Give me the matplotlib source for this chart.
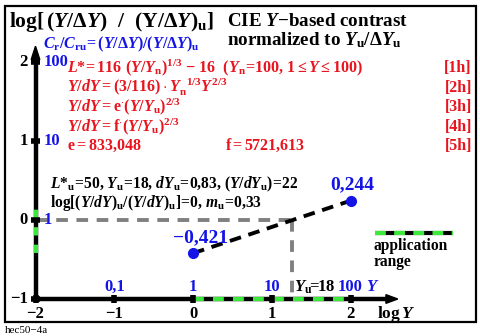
import numpy as np
import matplotlib
matplotlib.use("Agg")
import matplotlib.pyplot as plt
from matplotlib.patches import Rectangle, FancyArrow

plt.rcParams.update({
    "font.family": ["Liberation Serif", "DejaVu Serif"],
    "font.weight": "bold",
    "mathtext.fontset": "custom",
    "mathtext.rm": "Liberation Serif:bold",
    "mathtext.it": "Liberation Serif:italic:bold",
    "mathtext.bf": "Liberation Serif:bold",
    "mathtext.sf": "Liberation Serif:bold",
})

# ---- data -------------------------------------------------------------
log_y_ticks = [-2, -1, 0, 1, 2]                  # log Y
y_value_labels = ["0,1", "1", "10", "100"]        # Y at log Y = -1..2
contrast_ticks = [-1, 0, 1, 2]                    # log contrast ratio
contrast_value_labels = ["1", "10", "100"]        # C/Cu at 0..2
curve_logY = [0.0, 2.0]                           # Y = 1 .. 100
curve_logC = [-0.421, 0.244]
curve_labels = ["\u22120,421", "0,244"]
Y_u = 18
app_range_x = [0.0, 2.0]
app_range_y = [-0.421, 0.244]

BLUE = "#1414e6"
RED = "#e8141e"
GREEN = "#3ce83c"
GRAY = "#808080"

W, H = 481, 336
fig = plt.figure(figsize=(W / 100, H / 100), dpi=100)
ax = fig.add_axes([0, 0, 1, 1])
# pixel frame: x0 at px 193, 78.75 px/unit ; y0 at px 220, 79 px/unit
ax.set_xlim(-193 / 78.75, (W - 193) / 78.75)
ax.set_ylim(-(H - 220) / 79, 220 / 79)
ax.axis("off")


def fx(px):
    return px / W


def fy(py):
    return 1 - py / H


# outer frame
fig.patches.append(Rectangle((fx(5), fy(322)), fx(476) - fx(5), fy(6) - fy(322),
                             transform=fig.transFigure, fill=False,
                             edgecolor="black", linewidth=1.6))

x0, y0 = log_y_ticks[0], contrast_ticks[0]

# axes with arrows
ax.plot([x0, 2.5], [y0, y0], color="black", lw=3.2, solid_capstyle="butt", zorder=3)
ax.plot([x0, x0], [y0, 2.1], color="black", lw=3.2, solid_capstyle="butt", zorder=3)
ax.add_patch(FancyArrow(2.45, y0, 0.15, 0, width=0, head_width=0.11, head_length=0.15,
                        length_includes_head=True, color="black", zorder=4))
ax.add_patch(FancyArrow(x0, 2.03, 0, 0.17, width=0, head_width=0.11, head_length=0.17,
                        length_includes_head=True, color="black", zorder=4))

# application range on both axes
ax.plot(app_range_x, [y0, y0], color=GREEN, lw=3.0, dashes=(2.6, 2.2),
        solid_capstyle="butt", zorder=4)
ax.plot([x0, x0], app_range_y, color=GREEN, lw=3.0, dashes=(2.0, 2.2),
        solid_capstyle="butt", zorder=4)

# tick marks
for t in log_y_ticks:
    ax.plot([t, t], [y0 - 0.055, y0 + 0.055], color="black", lw=4.0,
            solid_capstyle="butt", zorder=5)
for t in contrast_ticks:
    ax.plot([x0 - 0.055, x0 + 0.055], [t, t], color="black", lw=4.0,
            solid_capstyle="butt", zorder=5)

# reference lines for Y_u
lx = np.log10(Y_u)
ax.plot([x0, lx], [0, 0], color=GRAY, lw=2.8, dashes=(3.0, 2.2), zorder=2)
ax.plot([lx, lx], [0, y0], color=GRAY, lw=2.8, dashes=(3.0, 2.2), zorder=2)

# contrast curve
ax.plot(curve_logY, curve_logC, color="black", lw=2.8, dashes=(3.0, 2.0), zorder=3)
ax.plot(curve_logY, curve_logC, "o", color=BLUE, ms=7, zorder=6)
ax.text(curve_logY[0] + 0.09, curve_logC[0] + 0.14, curve_labels[0], color=BLUE,
        fontsize=14, ha="center", va="baseline")
ax.text(curve_logY[1] + 0.02, curve_logC[1] + 0.14, curve_labels[1], color=BLUE,
        fontsize=14, ha="center", va="baseline")

# tick labels
for t in log_y_ticks:
    ax.text(t, y0 - 0.24, f"{t}".replace("-", "\u2212"), fontsize=12,
            ha="center", va="baseline")
for t, lab in zip(log_y_ticks[1:], y_value_labels):
    ax.text(t, y0 + 0.1, lab, color=BLUE, fontsize=12, ha="center", va="baseline")
for t in contrast_ticks:
    ax.text(x0 - 0.1, t, f"{t}".replace("-", "\u2212"), fontsize=12,
            ha="right", va="center")
for t, lab in zip(contrast_ticks[1:], contrast_value_labels):
    ax.text(x0 + 0.1, t, lab, color=BLUE, fontsize=12, ha="left", va="center")

ax.text(2.2, y0 + 0.1, r"$Y$", color=BLUE, fontsize=12, ha="left", va="baseline")
ax.text(2.34, y0 - 0.24, r"$\mathrm{log}\,Y$", fontsize=12.5, ha="left", va="baseline")
ax.text(lx + 0.03, y0 + 0.1, r"$Y_\mathrm{u}\!\!\mathrm{=}\!\!\mathrm{18}$", fontsize=12,
        ha="left", va="baseline")

# legend for the application range
fig.add_artist(plt.Line2D([fx(375), fx(453)], [fy(233), fy(233)],
                          transform=fig.transFigure, color="black", lw=3.0,
                          solid_capstyle="butt"))
fig.add_artist(plt.Line2D([fx(375), fx(453)], [fy(233), fy(233)],
                          transform=fig.transFigure, color=GREEN, lw=3.0,
                          dashes=(2.6, 2.0), solid_capstyle="butt"))
fig.text(fx(374), fy(250), "application", fontsize=11.2, va="baseline")
fig.text(fx(374), fy(266), "range", fontsize=11.2, va="baseline")

# titles
fig.text(fx(9), fy(27),
         r"$\mathrm{log[\,(}Y/\Delta Y\mathrm{)\ \ /\ \ (Y/}\Delta Y\mathrm{)_u]}$",
         fontsize=15.5, va="baseline")
fig.text(fx(227), fy(26), r"$\mathrm{CIE\ }Y\mathrm{{-}based\ contrast}$",
         fontsize=13.7, va="baseline")
fig.text(fx(227), fy(45), r"$\mathrm{normalized\ to\ }Y_\mathrm{u}/\Delta Y_\mathrm{u}$",
         fontsize=13.7, va="baseline")

fig.text(fx(43), fy(48),
         r"$C_\mathrm{r}/C_\mathrm{ru}\!\mathrm{=(}Y/\Delta Y\mathrm{)/(}Y/\Delta Y\mathrm{)_u}$",
         color=BLUE, fontsize=11.5, va="baseline")

# equations
eqs = [
    r"$L{*}\!\mathrm{=116\ (}Y/Y_\mathrm{n}\mathrm{)}^{1/3}\mathrm{\ {-}\ 16\ \ (}Y_\mathrm{n}"
    r"\!\mathrm{=}\!\mathrm{100{,}\ 1}{\leq}Y{\leq}\mathrm{100)}$",
    r"$Y/dY\mathrm{=(3/116)}\cdot Y_\mathrm{n}^{\ \ 1/3}Y^{2/3}$",
    r"$Y/dY\mathrm{=e}^{\cdot}\mathrm{(}Y/Y_\mathrm{u}\mathrm{)}^{2/3}$",
    r"$Y/dY\mathrm{=f}^{\cdot}\mathrm{(}Y/Y_\mathrm{u}\mathrm{)}^{2/3}$",
    r"$\mathrm{e=833{,}048}$",
]
eq_tags = ["[1h]", "[2h]", "[3h]", "[4h]", "[5h]"]
rows = [72, 92, 111, 131, 150]
for s, tag, r in zip(eqs, eq_tags, rows):
    fig.text(fx(67), fy(r), s, color=RED, fontsize=11.5, va="baseline")
    fig.text(fx(472), fy(r), tag, color=RED, fontsize=11.5, va="baseline", ha="right")
fig.text(fx(225), fy(150), r"$\mathrm{f=5721{,}613}$", color=RED,
         fontsize=11.5, va="baseline")

fig.text(fx(50), fy(188),
         r"$L{*}_\mathrm{u}\!\mathrm{=}\!\mathrm{50{,}\ }Y_\mathrm{u}\!\mathrm{=}\!\mathrm{18{,}\ }"
         r"dY_\mathrm{u}\!\mathrm{=}\!\mathrm{0{,}83{,}\ (}Y/dY_\mathrm{u}\mathrm{)}"
         r"\!\mathrm{=}\!\mathrm{22}$",
         fontsize=11.2, va="baseline")
fig.text(fx(50), fy(207),
         r"$\mathrm{log[}(Y/dY)_\mathrm{u}/(Y/dY)_\mathrm{u}\mathrm{]}\!\mathrm{=}\!"
         r"\mathrm{0{,}\ }m_\mathrm{u}\!\mathrm{=}\!\mathrm{0{,}33}$",
         fontsize=11.2, va="baseline")

fig.text(fx(5), fy(333), "hec50\u22124a", fontsize=8, fontweight="normal",
         va="baseline")

fig.savefig("out.png", dpi=100)
